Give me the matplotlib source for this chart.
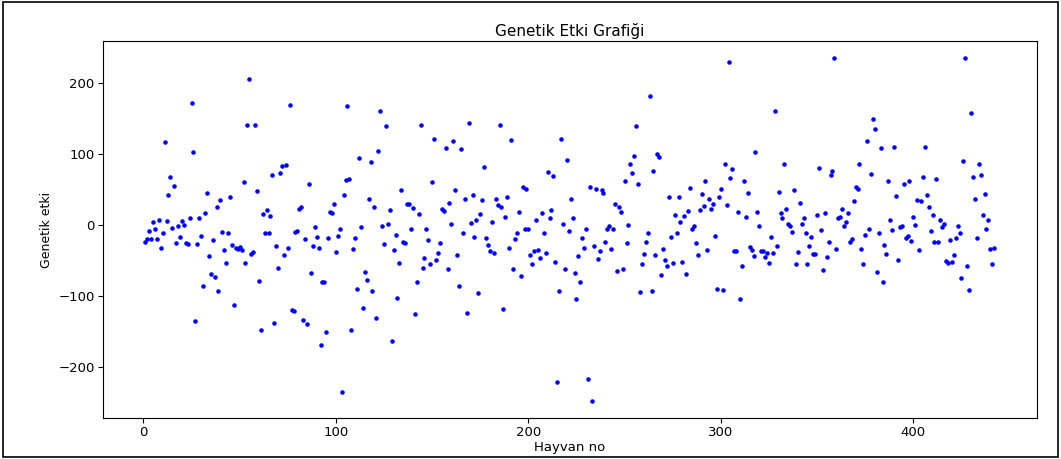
import numpy as np
import matplotlib
matplotlib.use("Agg")
import matplotlib.pyplot as plt
from matplotlib.patches import Rectangle

title = "Genetik Etki Grafiği"
x_label = "Hayvan no"
y_label = "Genetik etki"

effects_part1 = [
    -23.5, -20.2, -8.5, -20.2, 4.2, -6.1, -20.2, 6.6, -32.4, -11.7,
    116.9, 5.2, 42.3, 67.6, -3.8, 54.9, -25.4, -0.5, -17.4, 6.1,
    0.9, -25.4, -26.3, 10.3, 172.3, 103.3, -134.7, -26.3, 10.3, -15.0,
    -85.4, 17.8, 45.5, -44.1, -69.0, -21.1, -73.7, 25.4,
]
effects_part2 = [
    -93.4, 35.2, -9.9, -35.2, -53.1, -10.8, 39.0, -27.7, -113.2, -32.4,
    -34.3, -30.5, -35.2, 60.6, -53.1, 141.3, 205.6, -41.3, -38.5, 141.3,
    47.9, -78.4, -147.4, 15.5, -10.8, 21.6, -10.8, 13.6, 70.9, -138.5,
    -29.1, -60.1, 73.2, 83.6, -41.8, 84.5, -32.4, 170.0, -119.7,
]
effects_part3 = [
    -120.7, -9.4, -8.5, 22.1, 25.3, -133.8, -20.2, -139.9, 58.2, -67.1,
    -29.1, -2.4, -16.4, -31.5, -168.6, -80.8, -80.8, -151.2, -17.8, 19.2,
    17.8, 30.5, -38.5, -15.5, -5.2, -235.2, 43.2, 64.3, 168.5, 65.3,
    -147.4, -33.8, -18.8, -90.2, 94.8, -2.4, -116.4, -65.7, -77.5,
]
effects_part4 = [
    37.5, 89.2, -92.5, 25.3, -130.5, 104.2, 160.6, -1.1, -26.4, 139.9,
    2.2, 21.9, -163.9, -35.2, -13.2, -102.8, -53.1, 49.3, -23.5, -25.8,
    30.5, 30.5, -5.2, 23.9, -125.8, -80.8, 15.5, 141.3, -60.1, -46.5,
    -6.1, -21.1, -55.4, 60.6, 121.6, -49.8, -39.5, -25.8, 23.0,
]
effects_part5 = [
    20.6, 108.9, -62.5, 31.9, 1.9, 119.2, 49.3, -42.7, -86.4, 107.5,
    -11.7, 36.6, -124.4, 144.6, 3.3, 43.2, -17.4, 7.5, -95.8, 16.0,
    35.2, 82.1, -18.8, -27.7, -36.2, 4.2, -39.5, 36.6, 28.6, 141.3,
    25.8, -117.9, 11.3, 39.9, -31.5, 120.2, -62.5, -19.3, -11.7, 19.2,
]
effects_part6 = [
    -71.8, 54.0, -6.1, 51.6, -6.1, -41.8, -55.4, -37.1, 7.5, -35.2,
    -46.5, 17.8, -10.8, -39.5, 75.6, 9.9, 21.6, 69.9, -52.1, -221.1,
    -92.5, 121.6, 1.9, -62.5, 91.5, -8.5, 37.5, 9.9, -68.1, -104.2,
    -44.1, -79.8, -17.8, -31.5, -6.1, -216.9, 53.5, -247.9, -29.1,
]
effects_part7 = [
    51.6, -47.4, -36.2, 49.3, 46.0, -24.4, -5.2, -0.5, -33.8, -6.1,
    30.5, -64.8, 24.9, 19.2, -62.5, 62.9, -25.8, 0.9, 85.9, 74.2,
    97.6, 139.9, 58.2, -94.4, -55.4, -40.9, -23.5, -11.7, 182.6, -93.4,
    76.5, -41.8, 101.0, 96.2, -70.4, -33.8, -49.8, -57.8, 39.0, -16.0,
]
effects_part8 = [
    -53.1, 14.6, -11.7, 39.9, 4.2, -52.1, 12.7, -69.0, 20.6, 52.6,
    -6.1, -1.4, -25.8, -41.8, 21.6, 44.6, 27.2, 61.9, -35.2, 37.5,
    22.5, 30.5, -15.0, -90.2, 39.9, 51.6, -91.1, 85.9, 28.6, 230.0,
    66.7, 79.8, -37.1, -36.2, 19.2, -104.7, -57.8, 61.9, 11.3,
]
effects_part9 = [
    45.5, -30.1, -34.7, -44.1, 103.3, 19.2, -1.4, -36.2, -36.2, -45.1,
    -39.5, -53.1, -16.4, -39.5, 161.5, -29.1, 46.9, 16.9, 9.9, 86.8,
    22.5, 1.9, -1.4, -9.9, 49.3, -54.5, -38.5, 31.9, 1.9, 9.9,
    -11.7, -55.4, -29.1, -16.4, -40.4, -40.4, 14.5, 81.2, -7.1, -63.4,
]
effects_part10 = [
    16.9, -45.1, -23.5, 70.9, 77.0, 235.0, -33.8, 10.3, 11.3, 22.5,
    -1.4, 4.2, 16.9, -24.4, -19.7, 34.3, 54.0, 50.7, 85.9, -33.8,
    -54.5, -13.2, 118.3, -6.1, 72.3, 150.2, 135.2, -65.7, -11.7, 108.9,
    -79.8, -27.7, -40.4, 62.9, 6.6, -7.1, 109.8, 40.8, -49.8,
]
effects_part11 = [
    -2.4, -0.5, 58.2, -17.8, -15.5, 62.9, -22.1, 11.3, 0.9, 35.2,
    -34.7, 34.3, 67.6, 109.8, 43.2, 24.9, -8.5, 14.5, -24.4, 65.3,
    -24.4, 6.6, -2.4, 1.9, -50.7, -54.0, -21.1, -52.1, -41.8, -17.8,
    -1.4, -10.8, -75.1, 90.6, 235.0, -57.8, -91.1, 158.2, 67.6,
]
effects_part12 = [
    36.6, -18.8, 85.9, 70.9, 14.5, 44.6, -6.1, 6.6, -33.8, -54.5, -32.9,
]

effects = (effects_part1 + effects_part2 + effects_part3 + effects_part4
           + effects_part5 + effects_part6 + effects_part7 + effects_part8
           + effects_part9 + effects_part10 + effects_part11 + effects_part12)
animal_no = np.arange(1, len(effects) + 1)

fig = plt.figure(figsize=(10.61, 4.59), dpi=100)
ax = fig.add_axes([0.097, 0.089, 0.880, 0.821])
ax.plot(animal_no, effects, '.', color='blue', markersize=4.5)
ax.set_title(title, fontsize=11, pad=4)
ax.set_xlabel(x_label, fontsize=9.5, labelpad=1)
ax.set_ylabel(y_label, fontsize=9, labelpad=4)
ax.tick_params(labelsize=9.5, pad=2.5)
ax.set_yticks([-200, -100, 0, 100, 200])

fig.patches.append(Rectangle((0.003, 0.004), 0.994, 0.992, transform=fig.transFigure,
                             fill=False, edgecolor='black', linewidth=1.2))

fig.savefig("out.png", dpi=100)
